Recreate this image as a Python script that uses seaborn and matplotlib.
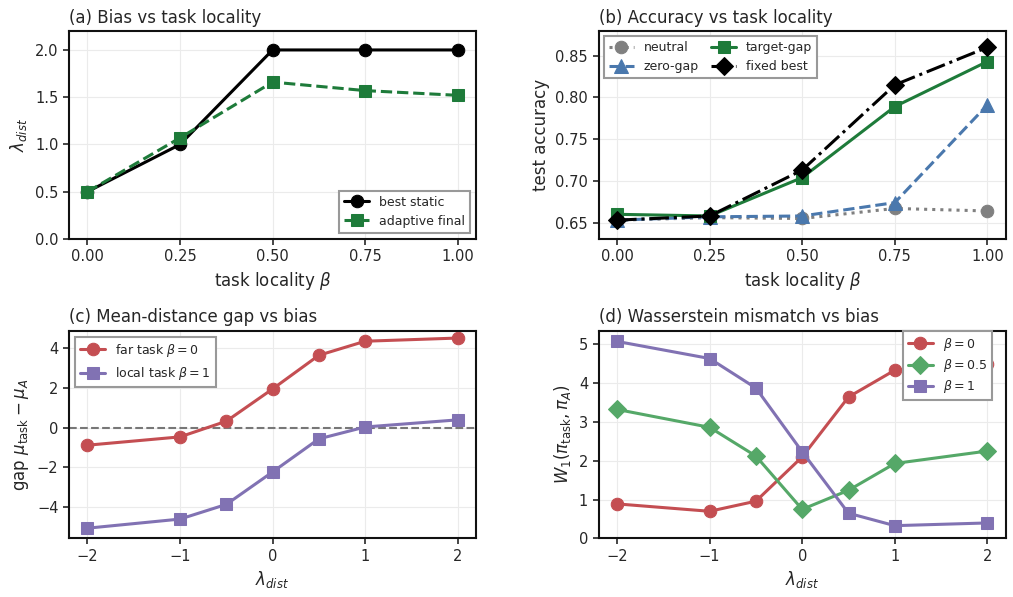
import numpy as np
import pandas as pd
import seaborn as sns
import matplotlib
matplotlib.use("Agg")
import matplotlib.pyplot as plt

beta = [0.0, 0.25, 0.5, 0.75, 1.0]
best_static = [0.5, 1.0, 2.0, 2.0, 2.0]
adaptive_final = [0.5, 1.07, 1.66, 1.57, 1.52]

acc_neutral = [0.653, 0.656, 0.655, 0.667, 0.664]
acc_zero_gap = [0.653, 0.657, 0.658, 0.674, 0.791]
acc_target_gap = [0.660, 0.658, 0.704, 0.789, 0.843]
acc_fixed_best = [0.653, 0.658, 0.713, 0.815, 0.860]

lam = [-2, -1, -0.5, 0, 0.5, 1, 2]
gap_far = [-0.89, -0.47, 0.32, 1.95, 3.65, 4.36, 4.52]
gap_local = [-5.08, -4.62, -3.88, -2.24, -0.57, 0.03, 0.39]

w1_b0 = [0.89, 0.70, 0.96, 2.10, 3.64, 4.33, 4.50]
w1_b05 = [3.32, 2.86, 2.12, 0.75, 1.24, 1.93, 2.25]
w1_b1 = [5.07, 4.63, 3.87, 2.23, 0.65, 0.33, 0.40]

sns.set_theme(style="ticks")
plt.rcParams.update({
    "font.family": ["DejaVu Sans"],
    "axes.edgecolor": "#111111",
    "axes.linewidth": 1.5,
    "xtick.major.width": 1.2,
    "ytick.major.width": 1.2,
    "xtick.labelsize": 10.5,
    "ytick.labelsize": 10.5,
    "axes.labelsize": 12,
    "legend.fontsize": 9,
    "mathtext.fontset": "dejavusans",
})

fig, axes = plt.subplots(2, 2, figsize=(10.13, 5.97), dpi=100)
plt.subplots_adjust(left=0.068, right=0.993, top=0.948, bottom=0.098, hspace=0.44, wspace=0.3)

DKGREEN = "#1e7b3a"
BLUE = "#4a78ad"
RED = "#c44e52"
PURPLE = "#8172b3"
GREEN = "#55a868"
GRAY = "#808080"

def leg(ax, **kw):
    l = ax.legend(fancybox=False, edgecolor="#999999", framealpha=1.0, **kw)
    l.get_frame().set_linewidth(1.5)
    return l

lw = 2.2
ms = 9

# (a)
ax = axes[0, 0]
df = pd.DataFrame({"beta": beta, "best": best_static, "adapt": adaptive_final})
sns.lineplot(data=df, x="beta", y="best", ax=ax, color="black", lw=lw, marker="o", ms=ms, mec="black", label="best static")
sns.lineplot(data=df, x="beta", y="adapt", ax=ax, color=DKGREEN, lw=lw, ls="--", marker="s", ms=ms, mec=DKGREEN, label="adaptive final")
ax.set_ylim(0, 2.2)
ax.set_xticks(beta)
ax.set_xticklabels(["0.00", "0.25", "0.50", "0.75", "1.00"])
ax.set_yticks([0, 0.5, 1.0, 1.5, 2.0])
ax.set_xlabel(r"task locality $\beta$")
ax.set_ylabel(r"$\lambda_{dist}$")
ax.set_title("(a) Bias vs task locality", loc="left", fontsize=12)
leg(ax, loc="lower right")

# (b)
ax = axes[0, 1]
dfb = pd.DataFrame({"beta": beta, "n": acc_neutral, "z": acc_zero_gap, "t": acc_target_gap, "f": acc_fixed_best})
sns.lineplot(data=dfb, x="beta", y="n", ax=ax, color=GRAY, lw=lw, ls=":", marker="o", ms=ms, mec=GRAY, label="neutral")
sns.lineplot(data=dfb, x="beta", y="z", ax=ax, color=BLUE, lw=lw, ls="--", marker="^", ms=ms + 1, mec=BLUE, label="zero-gap")
sns.lineplot(data=dfb, x="beta", y="t", ax=ax, color=DKGREEN, lw=lw, ls="-", marker="s", ms=ms, mec=DKGREEN, label="target-gap")
sns.lineplot(data=dfb, x="beta", y="f", ax=ax, color="black", lw=lw, ls="-.", marker="D", ms=ms, mec="black", label="fixed best")
ax.set_xticks(beta)
ax.set_xticklabels(["0.00", "0.25", "0.50", "0.75", "1.00"])
ax.set_ylim(0.6304, 0.8795)
ax.set_yticks([0.65, 0.70, 0.75, 0.80, 0.85])
ax.set_xlabel(r"task locality $\beta$")
ax.set_ylabel("test accuracy")
ax.set_title("(b) Accuracy vs task locality", loc="left", fontsize=12)
leg(ax, loc="upper left", ncol=2, columnspacing=1.0, borderaxespad=0.4, handletextpad=0.8)

# (c)
ax = axes[1, 0]
dfc = pd.DataFrame({"lam": lam, "far": gap_far, "local": gap_local})
ax.axhline(0, color="#777777", ls="--", lw=1.5, zorder=1)
sns.lineplot(data=dfc, x="lam", y="far", ax=ax, color=RED, lw=lw, marker="o", ms=ms, mec=RED, label=r"far task $\beta=0$")
sns.lineplot(data=dfc, x="lam", y="local", ax=ax, color=PURPLE, lw=lw, marker="s", ms=ms, mec=PURPLE, label=r"local task $\beta=1$")
ax.set_xticks([-2, -1, 0, 1, 2])
ax.set_yticks([-4, -2, 0, 2, 4])
ax.set_ylim(-5.6, 4.9)
ax.set_xlabel(r"$\lambda_{dist}$")
ax.set_ylabel(r"gap $\mu_{\rm task}-\mu_A$")
ax.set_title("(c) Mean-distance gap vs bias", loc="left", fontsize=12)
leg(ax, loc="upper left")

# (d)
ax = axes[1, 1]
dfd = pd.DataFrame({"lam": lam, "b0": w1_b0, "b05": w1_b05, "b1": w1_b1})
sns.lineplot(data=dfd, x="lam", y="b0", ax=ax, color=RED, lw=lw, marker="o", ms=ms, mec=RED, label=r"$\beta=0$")
sns.lineplot(data=dfd, x="lam", y="b05", ax=ax, color=GREEN, lw=lw, marker="D", ms=ms, mec=GREEN, label=r"$\beta=0.5$")
sns.lineplot(data=dfd, x="lam", y="b1", ax=ax, color=PURPLE, lw=lw, marker="s", ms=ms, mec=PURPLE, label=r"$\beta=1$")
ax.set_xticks([-2, -1, 0, 1, 2])
ax.set_yticks([0, 1, 2, 3, 4, 5])
ax.set_ylim(0, 5.35)
ax.set_xlabel(r"$\lambda_{dist}$")
ax.set_ylabel(r"$W_1(\pi_{\rm task},\pi_A)$")
ax.set_title("(d) Wasserstein mismatch vs bias", loc="left", fontsize=12)
leg(ax, loc="upper right", bbox_to_anchor=(0.965, 1.0), borderaxespad=0.0, labelspacing=0.35)

for a in axes.flat:
    a.grid(True, color="#ebebeb", lw=0.8)
    a.set_axisbelow(True)
    a.tick_params(length=4)

fig.savefig("out.png", dpi=100)
